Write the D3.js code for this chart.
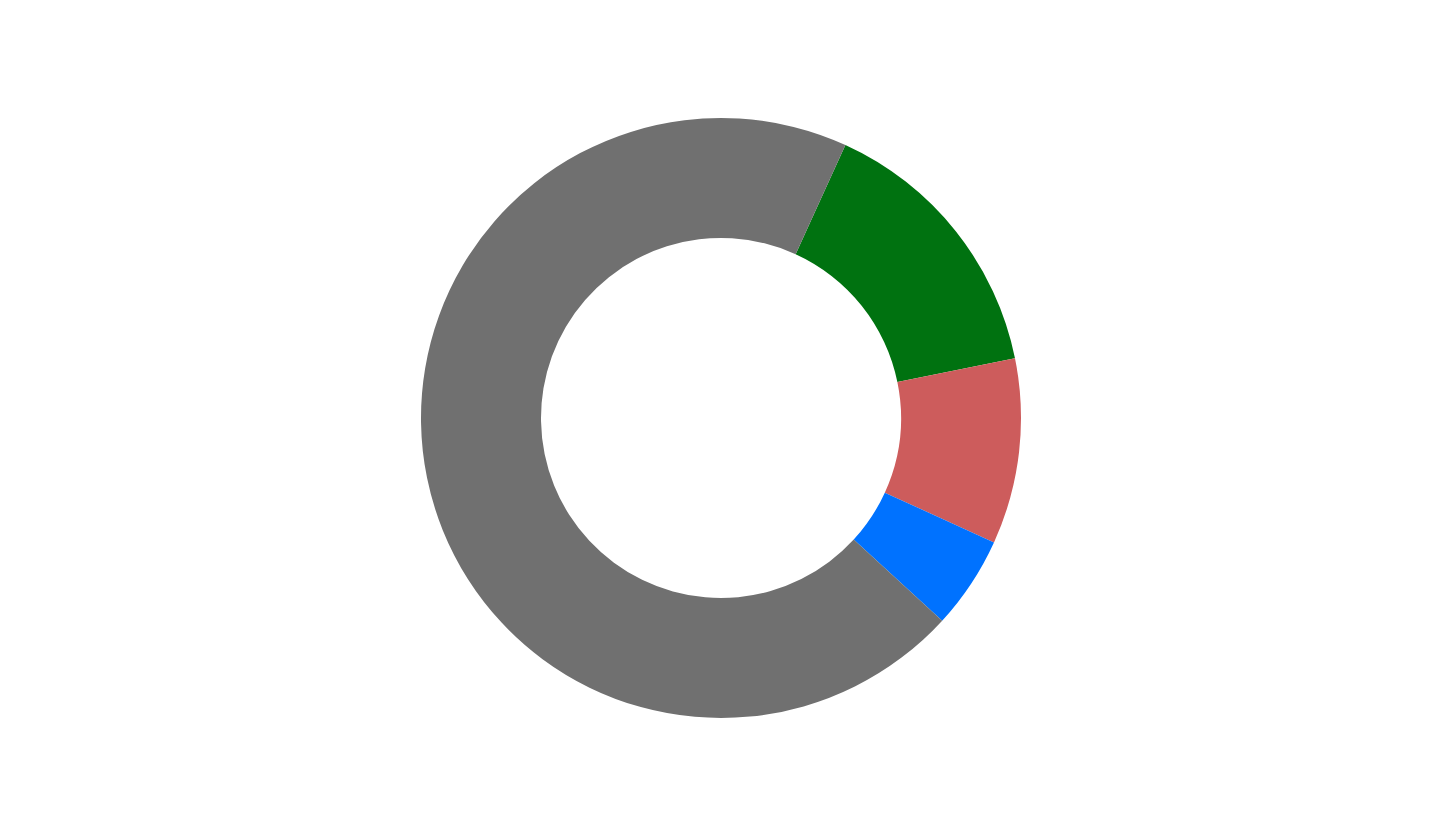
<!DOCTYPE html>
<html>
<head>
<meta charset="utf-8">
<script src="https://cdn.jsdelivr.net/npm/d3@7"></script>
<style>
html,body{margin:0;padding:0;background:#fff;}
svg{display:block;}
</style>
</head>
<body>
<svg id="chart" width="1443" height="838"></svg>
<script>
const categories = ["A", "B", "C", "D"];
const values = [15, 10, 5, 70];
const colors = ["#007210", "#CD5C5C", "#0072FF", "#707070"];

const width = 1443, height = 838;
const cx = 721, cy = 418;
const outerR = 300, innerR = 180;
const startDeg = 24.5;

const svg = d3.select("#chart");
const g = svg.append("g").attr("transform", `translate(${cx},${cy})`);

const data = categories.map((c, i) => ({cat: c, value: values[i], color: colors[i]}));
const pie = d3.pie().value(d => d.value).sort(null)
  .startAngle(startDeg * Math.PI / 180)
  .endAngle(startDeg * Math.PI / 180 + 2 * Math.PI);
const arc = d3.arc().innerRadius(innerR).outerRadius(outerR);

g.selectAll("path").data(pie(data)).join("path")
  .attr("d", arc)
  .attr("fill", d => d.data.color);
</script>
</body>
</html>
